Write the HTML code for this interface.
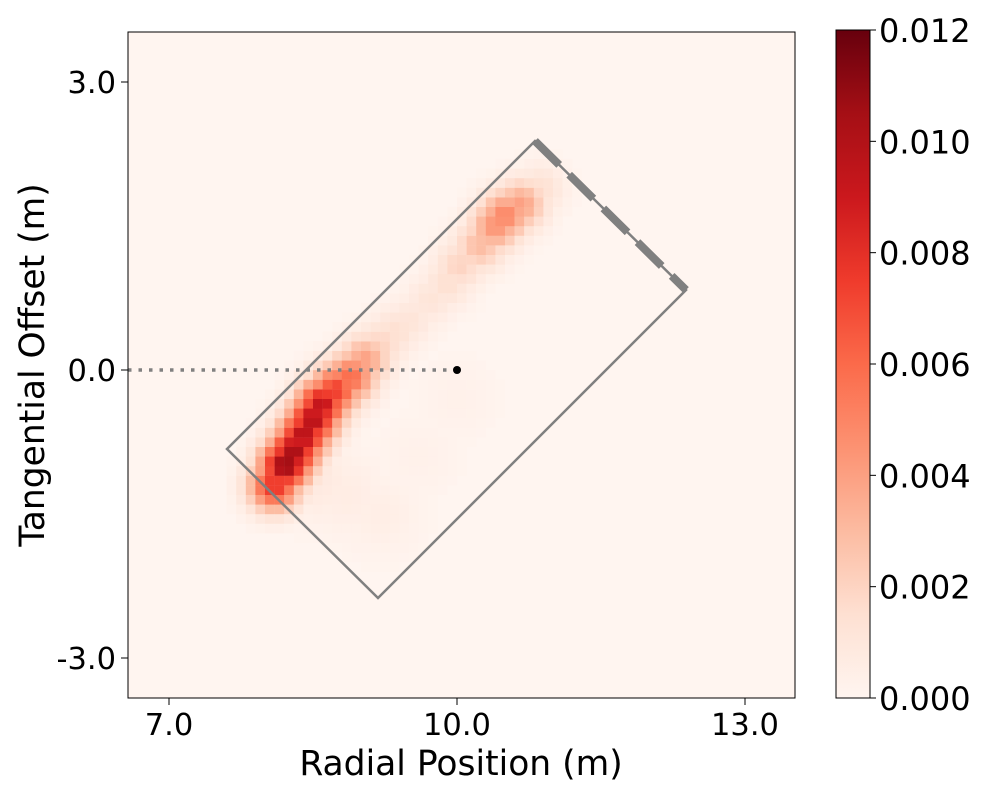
<!DOCTYPE html>
<html><head><meta charset="utf-8"><style>
body{margin:0;background:#fff;}
svg text{font-family:"DejaVu Sans","Liberation Sans",sans-serif;fill:#000;}
</style></head><body>
<svg id="chart" width="1000" height="800" xmlns="http://www.w3.org/2000/svg">
<defs>
<linearGradient id="reds" x1="0" y1="1" x2="0" y2="0">
<stop offset="0" stop-color="#fff5f0"/><stop offset="0.125" stop-color="#fee0d2"/><stop offset="0.25" stop-color="#fcbba1"/><stop offset="0.375" stop-color="#fc9272"/><stop offset="0.5" stop-color="#fb6a4a"/><stop offset="0.625" stop-color="#ef3b2c"/><stop offset="0.75" stop-color="#cb181d"/><stop offset="0.875" stop-color="#a50f15"/><stop offset="1" stop-color="#67000d"/>
</linearGradient>
<clipPath id="pc"><rect x="128" y="32" width="667" height="666"/></clipPath>
</defs>
<rect x="128" y="32" width="667" height="666" fill="#fff5f0"/>
<g id="cells" clip-path="url(#pc)"></g>
<g id="overlay"></g>
<rect x="128" y="32" width="667" height="666" fill="none" stroke="#000" stroke-width="1"/>
<g id="axes"></g>
<text x="461" y="775" font-size="34.5" text-anchor="middle">Radial Position (m)</text>
<text transform="translate(44,365) rotate(-90)" font-size="34.5" text-anchor="middle">Tangential Offset (m)</text>
<rect x="836" y="30" width="34" height="668" fill="url(#reds)" stroke="#000" stroke-width="1"/>
<g id="cbar"></g>
</svg>
<script>
const xTicks=[7,10,13];
const yTicks=[3,0,-3];
const cbTicks=[0,0.002,0.004,0.006,0.008,0.010,0.012];
const ridgeX=[8.10,8.21,8.30,8.40,8.50,8.59,8.73,8.89,9.04,9.20,9.35,9.51,9.72,9.90,10.03,10.24,10.40,10.50,10.66,10.86,8.55,8.85,9.2,9.6,10.0];
const ridgeY=[-1.20,-0.99,-0.85,-0.68,-0.52,-0.36,-0.21,-0.08,0.10,0.26,0.40,0.52,0.73,0.90,1.09,1.30,1.50,1.61,1.72,1.88,-1.15,-1.3,-1.5,-0.9,-0.3];
const ridgeV=[0.0080,0.0110,0.0105,0.0100,0.0100,0.0095,0.0075,0.0060,0.0040,0.0020,0.0015,0.0012,0.0012,0.0015,0.0020,0.0030,0.0045,0.0050,0.0040,0.0015,0.0008,0.0006,0.0005,0.0003,0.0003];
const vmax=0.012;
const X=v=>457+(v-10)*96, Y=v=>370-(v)*96;
const NS="http://www.w3.org/2000/svg";
function mk(t,a,p){const e=document.createElementNS(NS,t);for(const k in a)e.setAttribute(k,a[k]);p.appendChild(e);return e;}
const stops=[[0,[255,245,240]],[.125,[254,224,210]],[.25,[252,187,161]],[.375,[252,146,114]],[.5,[251,106,74]],[.625,[239,59,44]],[.75,[203,24,29]],[.875,[165,15,21]],[1,[103,0,13]]];
function cmap(t){t=Math.max(0,Math.min(1,t));for(let i=1;i<stops.length;i++){if(t<=stops[i][0]){const a=stops[i-1],b=stops[i],f=(t-a[0])/(b[0]-a[0]);return `rgb(${a[1].map((c,j)=>Math.round(c+(b[1][j]-c)*f)).join(',')})`;}}return 'rgb(103,0,13)';}
const cg=document.getElementById('cells');
for(let cx=6.6;cx<13.5;cx+=0.1){for(let cy=-3.5;cy<3.5;cy+=0.1){
 const mx=cx+0.05,my=cy+0.05;let v=0;
 for(let i=0;i<ridgeX.length;i++){const s=ridgeV[i]<0.001?0.3:0.18;const d2=((mx-ridgeX[i])**2+(my-ridgeY[i])**2)/(s*s);const g=ridgeV[i]*Math.exp(-d2/2);if(g>v)v=g;}
 if(v<0.00008)continue;
 const r=mk('rect',{x:X(cx),y:Y(cy+0.1),width:9.8,height:9.8,fill:cmap(v/vmax)},cg);
 
 
}}
const ov=document.getElementById('overlay');
const box=mk('polygon',{points:"535,141 686,290 378,598 227,449",fill:"none",stroke:"#808080","stroke-width":2.5},ov);


const dash=mk('line',{x1:535,y1:141,x2:686,y2:290,stroke:"#808080","stroke-width":8,"stroke-dasharray":"34,14"},ov);


const dot=mk('line',{x1:128,y1:370,x2:457,y2:370,stroke:"#808080","stroke-width":3.5,"stroke-dasharray":"3.5,7"},ov);


const c=mk('circle',{cx:457,cy:370,r:4,fill:"#000"},ov);


const ax=document.getElementById('axes');
xTicks.forEach(t=>{mk('line',{x1:X(t),y1:698,x2:X(t),y2:705,stroke:"#000"},ax);
 const e=mk('text',{x:X(t),y:735,"font-size":30.5,"text-anchor":"middle"},ax);e.textContent=t.toFixed(1);
 
 });
yTicks.forEach(t=>{mk('line',{x1:121,y1:Y(t),x2:128,y2:Y(t),stroke:"#000"},ax);
 const e=mk('text',{x:116,y:Y(t)+11,"font-size":30.5,"text-anchor":"end"},ax);e.textContent=t.toFixed(1);
 
 });
const cb=document.getElementById('cbar');
cbTicks.forEach(t=>{const y=698-t/vmax*668;mk('line',{x1:870,y1:y,x2:876,y2:y,stroke:"#000"},cb);
 const e=mk('text',{x:879,y:y+12,"font-size":32},cb);e.textContent=t.toFixed(3);
 
 });
</script>
</body></html>
